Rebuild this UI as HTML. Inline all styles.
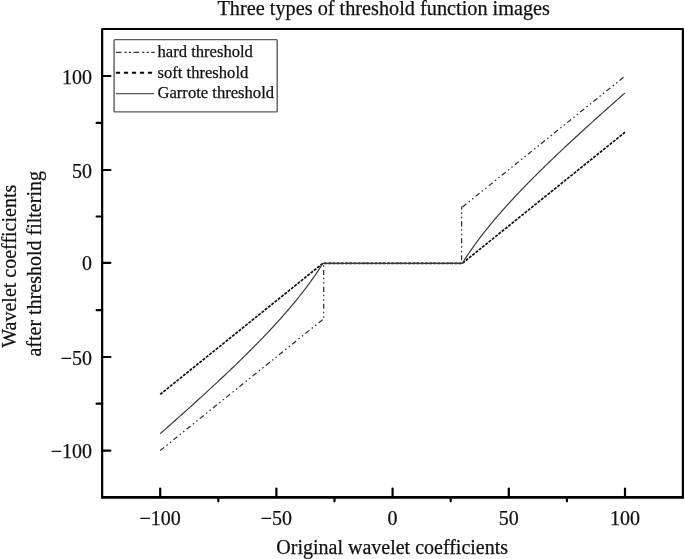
<!DOCTYPE html>
<html><head><meta charset="utf-8"><style>
html,body{margin:0;padding:0;background:#fff;width:685px;height:559px;overflow:hidden}
svg{display:block;will-change:transform}
text{font-family:"Liberation Serif",serif;fill:#111;stroke:#111;stroke-width:0.25px}
</style></head><body>
<svg width="685" height="559" viewBox="0 0 685 559">
<rect width="685" height="559" fill="#fff"/>
<text x="217.5" y="15" font-size="20.6" textLength="332.5" lengthAdjust="spacingAndGlyphs">Three types of threshold function images</text>
<g fill="none" stroke="#000" stroke-linejoin="round">
<polyline points="160.20,450.52 322.88,319.47 323.69,319.47 323.69,263.30 461.62,263.30 461.62,207.13 462.32,207.13" stroke-width="1.2" stroke="#2a2a2a" stroke-dasharray="5.04 3.03 1.51 2.93 1.51 2.93"/>
<polyline points="462.32,207.13 625.00,76.08" stroke-width="1.2" stroke="#2a2a2a" stroke-dasharray="5 3 1.5 2.9 1.5 2.9" stroke-dashoffset="-0.3"/>
<polyline points="160.20,394.35 322.88,263.30 462.32,263.30 625.00,132.25" stroke-width="1.7" stroke="#111" stroke-dasharray="3 1.2"/>
<polyline points="160.20,433.67 161.01,432.96 161.83,432.24 162.64,431.53 163.45,430.81 164.27,430.09 165.08,429.38 165.89,428.66 166.71,427.94 167.52,427.22 168.33,426.51 169.15,425.79 169.96,425.07 170.77,424.35 171.59,423.63 172.40,422.91 173.21,422.19 174.03,421.46 174.84,420.74 175.65,420.02 176.47,419.30 177.28,418.57 178.09,417.85 178.91,417.12 179.72,416.40 180.54,415.67 181.35,414.95 182.16,414.22 182.98,413.49 183.79,412.76 184.60,412.04 185.42,411.31 186.23,410.58 187.04,409.85 187.86,409.12 188.67,408.38 189.48,407.65 190.30,406.92 191.11,406.19 191.92,405.45 192.74,404.72 193.55,403.98 194.36,403.25 195.18,402.51 195.99,401.77 196.80,401.03 197.62,400.29 198.43,399.55 199.24,398.81 200.06,398.07 200.87,397.33 201.68,396.59 202.50,395.85 203.31,395.10 204.12,394.36 204.94,393.61 205.75,392.87 206.56,392.12 207.38,391.37 208.19,390.62 209.00,389.87 209.82,389.12 210.63,388.37 211.44,387.62 212.26,386.87 213.07,386.12 213.88,385.36 214.70,384.61 215.51,383.85 216.32,383.09 217.14,382.33 217.95,381.57 218.76,380.81 219.58,380.05 220.39,379.29 221.21,378.53 222.02,377.76 222.83,377.00 223.65,376.23 224.46,375.46 225.27,374.70 226.09,373.93 226.90,373.16 227.71,372.38 228.53,371.61 229.34,370.84 230.15,370.06 230.97,369.28 231.78,368.51 232.59,367.73 233.41,366.95 234.22,366.17 235.03,365.38 235.85,364.60 236.66,363.81 237.47,363.03 238.29,362.24 239.10,361.45 239.91,360.66 240.73,359.86 241.54,359.07 242.35,358.27 243.17,357.48 243.98,356.68 244.79,355.88 245.61,355.08 246.42,354.27 247.23,353.47 248.05,352.66 248.86,351.85 249.67,351.04 250.49,350.23 251.30,349.42 252.11,348.60 252.93,347.78 253.74,346.96 254.55,346.14 255.37,345.32 256.18,344.49 256.99,343.67 257.81,342.84 258.62,342.00 259.43,341.17 260.25,340.33 261.06,339.50 261.88,338.66 262.69,337.81 263.50,336.97 264.32,336.12 265.13,335.27 265.94,334.42 266.76,333.56 267.57,332.71 268.38,331.84 269.20,330.98 270.01,330.12 270.82,329.25 271.64,328.38 272.45,327.50 273.26,326.62 274.08,325.74 274.89,324.86 275.70,323.97 276.52,323.08 277.33,322.19 278.14,321.29 278.96,320.39 279.77,319.49 280.58,318.58 281.40,317.67 282.21,316.76 283.02,315.84 283.84,314.92 284.65,313.99 285.46,313.06 286.28,312.12 287.09,311.18 287.90,310.24 288.72,309.29 289.53,308.34 290.34,307.38 291.16,306.42 291.97,305.45 292.78,304.48 293.60,303.50 294.41,302.52 295.22,301.53 296.04,300.54 296.85,299.54 297.66,298.53 298.48,297.52 299.29,296.50 300.10,295.48 300.92,294.45 301.73,293.41 302.55,292.36 303.36,291.31 304.17,290.25 304.99,289.19 305.80,288.11 306.61,287.03 307.43,285.94 308.24,284.84 309.05,283.74 309.87,282.62 310.68,281.49 311.49,280.36 312.31,279.22 313.12,278.06 313.93,276.90 314.75,275.72 315.56,274.53 316.37,273.34 317.19,272.13 318.00,270.91 318.81,269.67 319.63,268.43 320.44,267.17 321.25,265.89 322.07,264.60 322.88,263.30 462.32,263.30 462.32,263.30 463.13,262.00 463.95,260.71 464.76,259.43 465.57,258.17 466.39,256.93 467.20,255.69 468.01,254.47 468.83,253.26 469.64,252.07 470.45,250.88 471.27,249.70 472.08,248.54 472.89,247.38 473.71,246.24 474.52,245.11 475.33,243.98 476.15,242.86 476.96,241.76 477.77,240.66 478.59,239.57 479.40,238.49 480.21,237.41 481.03,236.35 481.84,235.29 482.66,234.24 483.47,233.19 484.28,232.15 485.10,231.12 485.91,230.10 486.72,229.08 487.54,228.07 488.35,227.06 489.16,226.06 489.98,225.07 490.79,224.08 491.60,223.10 492.42,222.12 493.23,221.15 494.04,220.18 494.86,219.22 495.67,218.26 496.48,217.31 497.30,216.36 498.11,215.42 498.92,214.48 499.74,213.54 500.55,212.61 501.36,211.68 502.18,210.76 502.99,209.84 503.80,208.93 504.62,208.02 505.43,207.11 506.24,206.21 507.06,205.31 507.87,204.41 508.68,203.52 509.50,202.63 510.31,201.74 511.12,200.86 511.94,199.98 512.75,199.10 513.56,198.22 514.38,197.35 515.19,196.48 516.00,195.62 516.82,194.76 517.63,193.89 518.44,193.04 519.26,192.18 520.07,191.33 520.88,190.48 521.70,189.63 522.51,188.79 523.33,187.94 524.14,187.10 524.95,186.27 525.77,185.43 526.58,184.60 527.39,183.76 528.21,182.93 529.02,182.11 529.83,181.28 530.65,180.46 531.46,179.64 532.27,178.82 533.09,178.00 533.90,177.18 534.71,176.37 535.53,175.56 536.34,174.75 537.15,173.94 537.97,173.13 538.78,172.33 539.59,171.52 540.41,170.72 541.22,169.92 542.03,169.12 542.85,168.33 543.66,167.53 544.47,166.74 545.29,165.94 546.10,165.15 546.91,164.36 547.73,163.57 548.54,162.79 549.35,162.00 550.17,161.22 550.98,160.43 551.79,159.65 552.61,158.87 553.42,158.09 554.23,157.32 555.05,156.54 555.86,155.76 556.67,154.99 557.49,154.22 558.30,153.44 559.11,152.67 559.93,151.90 560.74,151.14 561.55,150.37 562.37,149.60 563.18,148.84 564.00,148.07 564.81,147.31 565.62,146.55 566.44,145.79 567.25,145.03 568.06,144.27 568.88,143.51 569.69,142.75 570.50,141.99 571.32,141.24 572.13,140.48 572.94,139.73 573.76,138.98 574.57,138.23 575.38,137.48 576.20,136.73 577.01,135.98 577.82,135.23 578.64,134.48 579.45,133.73 580.26,132.99 581.08,132.24 581.89,131.50 582.70,130.75 583.52,130.01 584.33,129.27 585.14,128.53 585.96,127.79 586.77,127.05 587.58,126.31 588.40,125.57 589.21,124.83 590.02,124.09 590.84,123.35 591.65,122.62 592.46,121.88 593.28,121.15 594.09,120.41 594.90,119.68 595.72,118.95 596.53,118.22 597.34,117.48 598.16,116.75 598.97,116.02 599.78,115.29 600.60,114.56 601.41,113.84 602.22,113.11 603.04,112.38 603.85,111.65 604.66,110.93 605.48,110.20 606.29,109.48 607.11,108.75 607.92,108.03 608.73,107.30 609.55,106.58 610.36,105.86 611.17,105.14 611.99,104.41 612.80,103.69 613.61,102.97 614.43,102.25 615.24,101.53 616.05,100.81 616.87,100.09 617.68,99.38 618.49,98.66 619.31,97.94 620.12,97.22 620.93,96.51 621.75,95.79 622.56,95.07 623.37,94.36 624.19,93.64 625.00,92.93" stroke-width="1.2" stroke="#3a3a3a"/>
</g>
<g stroke="#000" fill="none" stroke-linejoin="round">
<path d="M102.15,497.3 V29 H682.9 V497.3" stroke-width="2.2"/>
<line x1="101.05000000000001" y1="497.3" x2="684" y2="497.3" stroke-width="2.7"/>
</g>
<g stroke="#000" stroke-width="2.2" fill="none" stroke-linecap="round">
<line x1="160.20" y1="497.3" x2="160.20" y2="488.6"/><line x1="102.15" y1="450.55" x2="110.4" y2="450.55"/><line x1="276.40" y1="497.3" x2="276.40" y2="488.6"/><line x1="102.15" y1="357.00" x2="110.4" y2="357.00"/><line x1="392.60" y1="497.3" x2="392.60" y2="488.6"/><line x1="102.15" y1="262.85" x2="110.4" y2="262.85"/><line x1="508.80" y1="497.3" x2="508.80" y2="488.6"/><line x1="102.15" y1="170.00" x2="110.4" y2="170.00"/><line x1="625.00" y1="497.3" x2="625.00" y2="488.6"/><line x1="102.15" y1="76.00" x2="110.4" y2="76.00"/><line x1="218.30" y1="497.3" x2="218.30" y2="501.3"/><line x1="102.15" y1="403.72" x2="96.6" y2="403.72"/><line x1="334.50" y1="497.3" x2="334.50" y2="501.3"/><line x1="102.15" y1="310.11" x2="96.6" y2="310.11"/><line x1="450.70" y1="497.3" x2="450.70" y2="501.3"/><line x1="102.15" y1="216.50" x2="96.6" y2="216.50"/><line x1="566.90" y1="497.3" x2="566.90" y2="501.3"/><line x1="102.15" y1="122.88" x2="96.6" y2="122.88"/>
</g>
<g font-size="20">
<text x="160.20" y="524.5" text-anchor="middle">−100</text><text x="276.40" y="524.5" text-anchor="middle">−50</text><text x="392.60" y="524.5" text-anchor="middle">0</text><text x="508.80" y="524.5" text-anchor="middle">50</text><text x="625.00" y="524.5" text-anchor="middle">100</text>
<text x="92" y="458.15" text-anchor="end">−100</text><text x="92" y="364.60" text-anchor="end">−50</text><text x="92" y="270.45" text-anchor="end">0</text><text x="92" y="177.60" text-anchor="end">50</text><text x="92" y="83.60" text-anchor="end">100</text>
</g>
<text x="392.2" y="553.7" font-size="20" text-anchor="middle">Original wavelet coefficients</text>
<g transform="translate(15.6,265.5) rotate(-90)" font-size="20" text-anchor="middle">
<text x="-0.7" y="0">Wavelet coefficients</text>
<text x="1.7" y="25.5">after threshold filtering</text>
</g>
<rect x="114.1" y="39.6" width="163.1" height="72.3" rx="0.8" fill="none" stroke="#5a5a5a" stroke-width="1.4"/>
<g fill="none" stroke="#000">
<line x1="115.9" y1="52.4" x2="154.7" y2="52.4" stroke-width="1.3" stroke="#333" stroke-dasharray="5.6 3 2.2 2.3 2.2 2.3"/>
<line x1="115.9" y1="72.8" x2="152.5" y2="72.8" stroke-width="2" stroke-dasharray="4.2 3.8"/>
<line x1="115.9" y1="93.6" x2="154" y2="93.6" stroke-width="1.3" stroke="#555"/>
</g>
<g font-size="16.6">
<text x="157.5" y="57.1">hard threshold</text>
<text x="157.5" y="77.6">soft threshold</text>
<text x="157.5" y="98.3">Garrote threshold</text>
</g>
</svg>
</body></html>
